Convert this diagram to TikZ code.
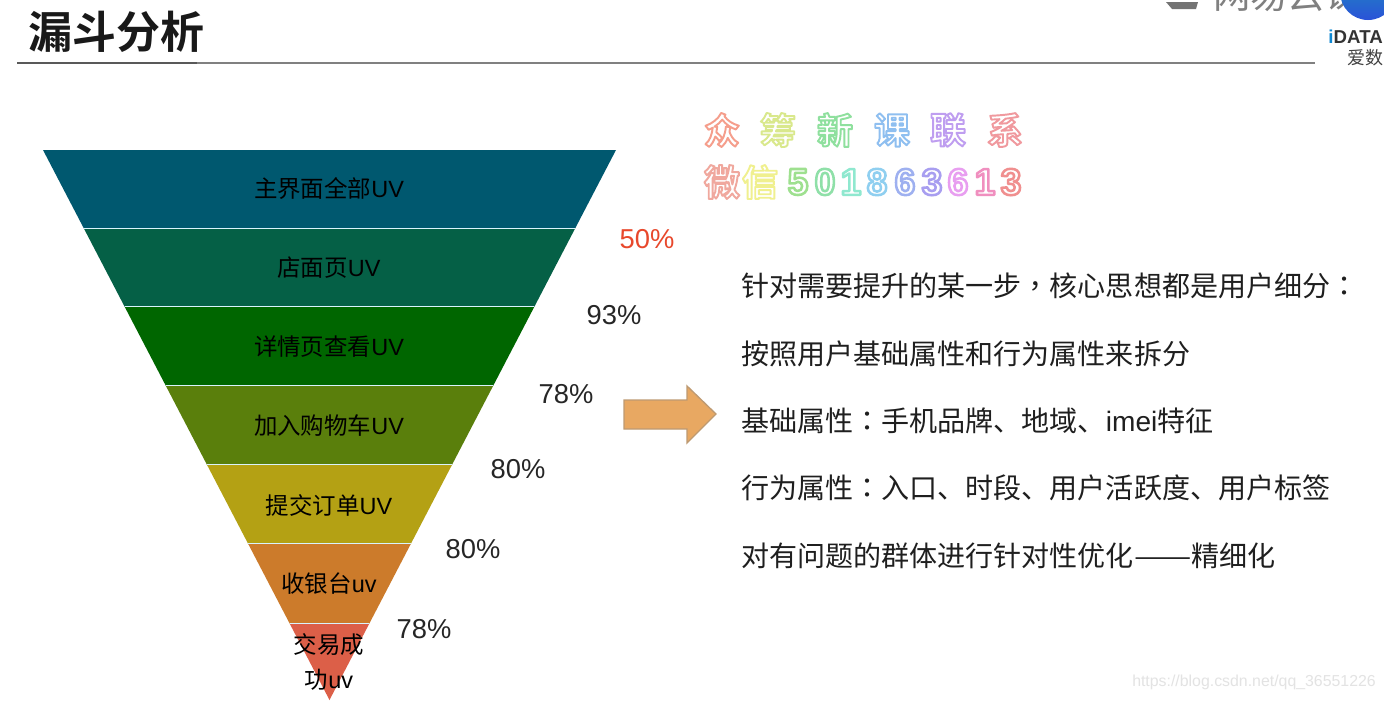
\documentclass[tikz,border=0pt]{standalone}
\usepackage{fontspec}
\setmainfont{Liberation Sans}
\newfontfamily\cjk{Noto Sans CJK SC}
\newfontfamily\cjktc{Noto Sans CJK TC}
\newfontfamily\cjkb{Noto Sans CJK SC Bold}
\newfontfamily\latb{Liberation Sans Bold}
\definecolor{b1}{HTML}{00586F}
\definecolor{b2}{HTML}{056046}
\definecolor{b3}{HTML}{006600}
\definecolor{b4}{HTML}{5A7F0C}
\definecolor{b5}{HTML}{B4A114}
\definecolor{b6}{HTML}{CC7B2B}
\definecolor{b7}{HTML}{DC5F48}
\definecolor{arrowfill}{HTML}{E8A862}
\definecolor{arrowline}{HTML}{BE9A72}
\definecolor{pctred}{HTML}{E8482C}
\definecolor{logotop}{HTML}{1C9CB8}
\definecolor{logobot}{HTML}{2A52D8}
\tikzset{
  x=0.75pt,y=-0.75pt,
  band/.style={draw=white!85!cyan,line width=1pt,line join=miter},
  flabel/.style={inner sep=0pt,font=\fontsize{17.6}{17.6}\selectfont,text=black},
  pct/.style={inner sep=0pt,font=\fontsize{20.5}{20.5}\selectfont,text=black!85},
  body/.style={inner sep=0pt,anchor=west,font=\fontsize{21.04}{21.04}\selectfont,text=black!88},
  rainbow/.style={inner sep=0pt,text=white},
}
\newcommand{\fband}[3]{%
  \fill[#3] ({329.5-0.5209*(700-#1)},#1) -- ({329.5+0.5209*(700-#1)},#1)
    -- ({329.5+0.5209*(700-#2)},#2) -- ({329.5-0.5209*(700-#2)},#2) -- cycle;
  \draw[band] ({329.5-0.5209*(700-#2)},#2) -- ({329.5+0.5209*(700-#2)},#2);
}
% text with a coloured stroke round a white fill (PDF text render mode 2)
\newcommand{\stroked}[3]{\special{pdf:code q 2 Tr 1 j #1 RG #3 w}#2\special{pdf:code Q}}
\newcommand{\fancy}[4]{\node[rainbow,font=\fontsize{27}{27}\cjkb] at (#1,#2) {\stroked{#3}{#4}{1.45}};}
\newcommand{\fancylat}[4]{\node[rainbow,font=\fontsize{28}{28}\latb] at (#1,#2) {\stroked{#3}{#4}{1.9}};}
\begin{document}
\begin{tikzpicture}
\useasboundingbox (0,0) rectangle (1384,700);
\clip (0,0) rectangle (1384,700);
\fill[white] (0,0) rectangle (1384,700);

% header
\node[inner sep=0pt,anchor=west,font=\fontsize{33}{33}\cjkb,text=black!90] (title) at (28,32) {漏斗分析};
\draw[black!50,line width=0.8pt] (17,63) -- (1315,63);
\draw[black!65,line width=0.8pt] (17,63) -- (197,63);

% logo
\node[inner sep=0pt,anchor=west,font=\fontsize{28}{28}\cjk,text=black!50] (logotext) at (1213,-5) {网易云课};
\fill[black!55] (1166,2) -- (1198,2) -- (1196,9) -- (1172,9) -- cycle;
\shade[top color=logotop,bottom color=logobot] (1368,-8) circle (28);
\node[inner sep=0pt,anchor=east,font=\fontsize{14}{14}\latb,text=black!80] (idata) at (1383,37) {{\color{cyan!70!blue}i}DATA};
\node[inner sep=0pt,anchor=east,font=\fontsize{13.5}{13.5}\cjk,text=black!75] (aishu) at (1384,58) {爱数};

% funnel
\fband{150}{229}{b1}
\fband{229}{307}{b2}
\fband{307}{386}{b3}
\fband{386}{465}{b4}
\fband{465}{544}{b5}
\fband{544}{624}{b6}
\fband{624}{700}{b7}

\node[flabel] (l1) at (329,189) {{\cjk 主界面全部}UV};
\node[flabel] (l2) at (329,268) {{\cjk 店面页}UV};
\node[flabel] (l3) at (329,347) {{\cjk 详情页查看}UV};
\node[flabel] (l4) at (329,426) {{\cjk 加入购物车}UV};
\node[flabel] (l5) at (329,505) {{\cjk 提交订单}UV};
\node[flabel] (l6) at (329,584) {{\cjk 收银台}uv};
\node[flabel] (l7a) at (329,645) {{\cjk 交易成}};
\node[flabel] (l7b) at (329,680) {{\cjk 功}uv};

% percentages
\node[pct,text=pctred] (p1) at (647,239) {50\%};
\node[pct] (p2) at (614,315) {93\%};
\node[pct] (p3) at (566,394) {78\%};
\node[pct] (p4) at (518,469) {80\%};
\node[pct] (p5) at (473,549) {80\%};
\node[pct] (p6) at (424,629) {78\%};

% arrow
\fill[draw=arrowline,fill=arrowfill,line width=1pt,line join=miter]
  (624,400) -- (687,400) -- (687,386) -- (716,414) -- (687,443) -- (687,429) -- (624,429) -- cycle;

% rainbow text
\fancy{722}{130}{0.96 0.62 0.55}{众}
\fancy{778}{130}{0.85 0.91 0.55}{筹}
\fancy{835}{130}{0.56 0.88 0.62}{新}
\fancy{892}{130}{0.56 0.75 0.94}{课}
\fancy{948}{130}{0.75 0.62 0.94}{联}
\fancy{1005}{130}{0.94 0.60 0.62}{系}
\fancy{722}{182}{0.94 0.66 0.62}{微}
\fancy{760}{182}{0.94 0.94 0.56}{信}
\fancylat{798}{182}{0.62 0.88 0.56}{5}
\fancylat{825}{182}{0.56 0.88 0.66}{0}
\fancylat{851}{182}{0.56 0.91 0.81}{1}
\fancylat{877}{182}{0.56 0.81 0.94}{8}
\fancylat{905}{182}{0.62 0.69 0.94}{6}
\fancylat{932}{182}{0.66 0.62 0.94}{3}
\fancylat{958}{182}{0.91 0.62 0.94}{6}
\fancylat{985}{182}{0.94 0.56 0.75}{1}
\fancylat{1011}{182}{0.94 0.56 0.56}{3}

% body text
\node[body] (t1) at (741,286) {{\cjk 针对需要提升的某一步{\cjktc ，}核心思想都是用户细分{\cjktc ：}}};
\node[body] (t2) at (741,354) {{\cjk 按照用户基础属性和行为属性来拆分}};
\node[body] (t3) at (741,421) {{\cjk 基础属性{\cjktc ：}手机品牌、地域、}imei{\cjk 特征}};
\node[body] (t4) at (741,488) {{\cjk 行为属性{\cjktc ：}入口、时段、用户活跃度、用户标签}};
\node[body] (t5) at (741,556) {{\cjk 对有问题的群体进行针对性优化\scalebox{1.22}[1]{——}精细化}};

% watermark
\node[inner sep=0pt,anchor=east,font=\fontsize{11.9}{11.9}\selectfont,text=black!11] (wm) at (1376,682) {https://blog.csdn.net/qq\_36551226};
\end{tikzpicture}
\end{document}
